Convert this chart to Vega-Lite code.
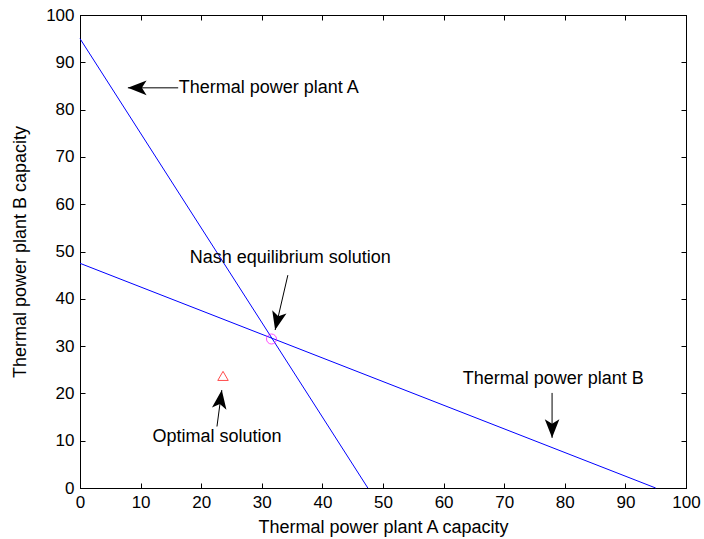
{
  "$schema": "https://vega.github.io/schema/vega-lite/v6.json",
  "width": 606,
  "height": 473,
  "autosize": "none",
  "padding": {"left": 80, "top": 15, "right": 18, "bottom": 51},
  "background": "white",
  "config": {
    "view": {"stroke": "black", "strokeWidth": 1},
    "axis": {
      "grid": false,
      "domainColor": "black",
      "domainWidth": 1,
      "tickColor": "black",
      "tickWidth": 1,
      "tickSize": -5,
      "labelColor": "black",
      "titleColor": "black",
      "labelFont": "Liberation Sans",
      "titleFont": "Liberation Sans",
      "labelFontSize": 17,
      "titleFontSize": 18,
      "titleFontWeight": "normal",
      "labelFlush": false,
      "labelOverlap": false
    },
    "text": {"font": "Liberation Sans", "fontSize": 18, "color": "black"}
  },
  "datasets": {
    "lines": [
      {"series": "Thermal power plant A", "a": 0, "b": 95},
      {"series": "Thermal power plant A", "a": 47.5, "b": 0},
      {"series": "Thermal power plant B", "a": 0, "b": 47.5},
      {"series": "Thermal power plant B", "a": 95, "b": 0}
    ],
    "points": [
      {"name": "Nash equilibrium", "a": 31.6, "b": 31.5},
      {"name": "Optimal", "a": 23.6, "b": 23.7}
    ],
    "arrows": [
      {"name": "A", "tailA": 16.2, "tailB": 84.6, "headA": 7.9, "headB": 84.6},
      {"name": "Nash", "tailA": 34.3, "tailB": 45.0, "headA": 32.2, "headB": 33.4},
      {"name": "Optimal", "tailA": 22.6, "tailB": 13.0, "headA": 23.4, "headB": 20.7},
      {"name": "B", "tailA": 77.9, "tailB": 20.1, "headA": 77.9, "headB": 10.6}
    ],
    "labels": [
      {"text": "Nash equilibrium solution", "a": 34.7, "b": 48.6},
      {"text": "Optimal solution", "a": 22.6, "b": 10.8},
      {"text": "Thermal power plant B", "a": 78.1, "b": 23.0}
    ]
  },
  "layer": [
    {
      "data": {"name": "lines"},
      "mark": {"type": "line", "color": "#0000ff", "strokeWidth": 1},
      "encoding": {
        "x": {"field": "a", "type": "quantitative", "scale": {"domain": [0, 100], "nice": false, "zero": false},
          "axis": {"orient": "bottom", "values": [0,10,20,30,40,50,60,70,80,90,100], "title": "Thermal power plant A capacity", "labelPadding": 11, "titlePadding": 8}},
        "y": {"field": "b", "type": "quantitative", "scale": {"domain": [0, 100], "nice": false, "zero": false},
          "axis": {"orient": "left", "values": [0,10,20,30,40,50,60,70,80,90,100], "title": "Thermal power plant B capacity", "labelPadding": 11, "titlePadding": 16}},
        "detail": {"field": "series"}
      }
    },
    {
      "data": {"name": "lines"},
      "mark": {"type": "line", "opacity": 0},
      "encoding": {
        "x": {"field": "a", "type": "quantitative", "scale": {"domain": [0, 100], "nice": false, "zero": false},
          "axis": {"orient": "top", "values": [0,10,20,30,40,50,60,70,80,90,100], "labels": false, "title": null}},
        "y": {"field": "b", "type": "quantitative", "scale": {"domain": [0, 100], "nice": false, "zero": false},
          "axis": {"orient": "right", "values": [0,10,20,30,40,50,60,70,80,90,100], "labels": false, "title": null}},
        "detail": {"field": "series"}
      }
    },
    {
      "data": {"name": "points"},
      "transform": [{"filter": "datum.name === 'Nash equilibrium'"}],
      "mark": {"type": "point", "shape": "circle", "filled": false, "color": "#ff00ff", "size": 100, "strokeWidth": 1},
      "encoding": {
        "x": {"field": "a", "type": "quantitative", "axis": null},
        "y": {"field": "b", "type": "quantitative", "axis": null}
      }
    },
    {
      "data": {"name": "points"},
      "transform": [{"filter": "datum.name === 'Optimal'"}],
      "mark": {"type": "point", "shape": "triangle-up", "filled": false, "color": "#ff0000", "size": 110, "strokeWidth": 1},
      "encoding": {
        "x": {"field": "a", "type": "quantitative", "axis": null},
        "y": {"field": "b", "type": "quantitative", "axis": null}
      }
    },
    {
      "data": {"name": "arrows"},
      "mark": {"type": "rule", "color": "black", "strokeWidth": 1},
      "encoding": {
        "x": {"field": "tailA", "type": "quantitative", "axis": null},
        "y": {"field": "tailB", "type": "quantitative", "axis": null},
        "x2": {"field": "headA"},
        "y2": {"field": "headB"}
      }
    },
    {
      "data": {"name": "arrows"},
      "transform": [{"filter": "datum.name === 'A'"}],
      "mark": {"type": "point", "shape": "M0,0L0.39,1L0,0.75L-0.39,1Z", "filled": true, "color": "black", "opacity": 1, "size": 1400, "angle": 270, "strokeWidth": 0},
      "encoding": {
        "x": {"field": "headA", "type": "quantitative", "axis": null},
        "y": {"field": "headB", "type": "quantitative", "axis": null}
      }
    },
    {
      "data": {"name": "arrows"},
      "transform": [{"filter": "datum.name === 'Nash'"}],
      "mark": {"type": "point", "shape": "M0,0L0.39,1L0,0.75L-0.39,1Z", "filled": true, "color": "black", "opacity": 1, "size": 1400, "angle": 193, "strokeWidth": 0},
      "encoding": {
        "x": {"field": "headA", "type": "quantitative", "axis": null},
        "y": {"field": "headB", "type": "quantitative", "axis": null}
      }
    },
    {
      "data": {"name": "arrows"},
      "transform": [{"filter": "datum.name === 'Optimal'"}],
      "mark": {"type": "point", "shape": "M0,0L0.39,1L0,0.75L-0.39,1Z", "filled": true, "color": "black", "opacity": 1, "size": 1400, "angle": 8, "strokeWidth": 0},
      "encoding": {
        "x": {"field": "headA", "type": "quantitative", "axis": null},
        "y": {"field": "headB", "type": "quantitative", "axis": null}
      }
    },
    {
      "data": {"name": "arrows"},
      "transform": [{"filter": "datum.name === 'B'"}],
      "mark": {"type": "point", "shape": "M0,0L0.39,1L0,0.75L-0.39,1Z", "filled": true, "color": "black", "opacity": 1, "size": 1400, "angle": 180, "strokeWidth": 0},
      "encoding": {
        "x": {"field": "headA", "type": "quantitative", "axis": null},
        "y": {"field": "headB", "type": "quantitative", "axis": null}
      }
    },
    {
      "data": {"values": [{"text": "Thermal power plant A", "a": 16.3, "b": 84.6}]},
      "mark": {"type": "text", "align": "left", "baseline": "middle"},
      "encoding": {
        "x": {"field": "a", "type": "quantitative", "axis": null},
        "y": {"field": "b", "type": "quantitative", "axis": null},
        "text": {"field": "text"}
      }
    },
    {
      "data": {"name": "labels"},
      "mark": {"type": "text", "align": "center", "baseline": "middle"},
      "encoding": {
        "x": {"field": "a", "type": "quantitative", "axis": null},
        "y": {"field": "b", "type": "quantitative", "axis": null},
        "text": {"field": "text"}
      }
    }
  ],
  "resolve": {"axis": {"x": "independent", "y": "independent"}}
}
